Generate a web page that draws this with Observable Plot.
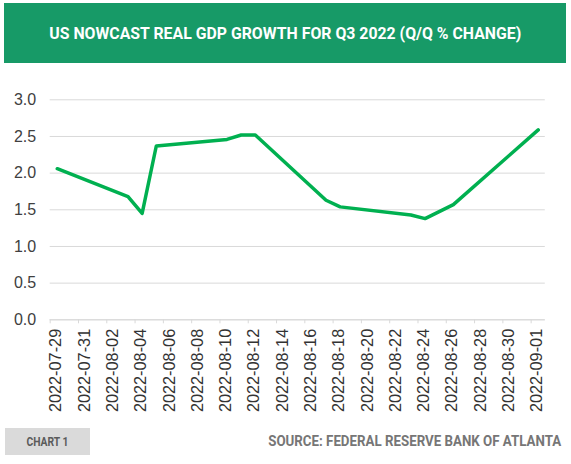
<!DOCTYPE html>
<html>
<head>
<meta charset="utf-8">
<script src="https://cdn.jsdelivr.net/npm/d3@7"></script>
<script src="https://cdn.jsdelivr.net/npm/@observablehq/plot@0.6"></script>
<style>
  html, body { margin: 0; padding: 0; background: #fff; }
  #wrap { position: relative; width: 571px; height: 464px; overflow: hidden; background: #fff; }
  #banner { position: absolute; left: 4px; top: 3px; width: 562px; height: 60px; background: #179a67;
            display: flex; align-items: center; justify-content: center; }
  .squeeze { display: inline-block; white-space: nowrap; transform-origin: center center; }
  #title { color: #fff; font-family: Roboto, "Liberation Sans", sans-serif; font-weight: 700; font-size: 17px; }
  #chart { position: absolute; left: 0; top: 70px; }
  #tag { position: absolute; left: 5px; top: 428px; width: 85px; height: 27px; background: #dadada;
         display: flex; align-items: center; justify-content: center; }
  #tagtext { color: #5b5b5b; font-family: Roboto, "Liberation Sans", sans-serif; font-weight: 700; font-size: 12.5px; }
  #source { position: absolute; left: 268px; top: 432px; height: 18px; width: 294px; display: flex; align-items: center; justify-content: center; }
  #sourcetext { color: #767676; font-family: Roboto, "Liberation Sans", sans-serif; font-weight: 700; font-size: 14.5px; }
</style>
</head>
<body>
<div id="wrap">
  <div id="banner"><span id="title" class="squeeze">US NOWCAST REAL GDP GROWTH FOR Q3 2022 (Q/Q % CHANGE)</span></div>
  <div id="chart"></div>
  <div id="tag"><span id="tagtext" class="squeeze">CHART 1</span></div>
  <div id="source"><span id="sourcetext" class="squeeze">SOURCE: FEDERAL RESERVE BANK OF ATLANTA</span></div>
</div>
<script>
// ---- data ----
const dates = ["2022-07-29","2022-08-03","2022-08-04","2022-08-05","2022-08-10","2022-08-11","2022-08-12",
               "2022-08-17","2022-08-18","2022-08-23","2022-08-24","2022-08-26","2022-09-01"];
const growth = [2.06, 1.68, 1.45, 2.37, 2.46, 2.52, 2.52, 1.63, 1.54, 1.43, 1.38, 1.57, 2.59];
const xDomain = ["2022-07-29", "2022-09-02"];
const yTicks = [0, 0.5, 1.0, 1.5, 2.0, 2.5, 3.0];
const xTickStart = "2022-07-29";
const xTickStepDays = 2;

const parse = d3.utcParse("%Y-%m-%d");
const data = dates.map((d, i) => ({date: d3.utcHour.offset(parse(d), 12), value: growth[i]}));
const domX = xDomain.map(parse);
const xTicks = d3.utcDay.range(parse(xTickStart), domX[1], xTickStepDays);

const plot = Plot.plot({
  width: 571,
  height: 350,
  marginLeft: 49.7,
  marginRight: 26.2,
  marginTop: 29.3,
  marginBottom: 100.7,
  style: {background: "transparent", overflow: "visible"},
  x: {type: "utc", domain: domX},
  y: {domain: [0, 3]},
  marks: [
    Plot.gridY(yTicks, {stroke: "#d9d9d9", strokeOpacity: 1, strokeWidth: 1}),
    Plot.axisY(yTicks, {tickSize: 0, tickPadding: 14, tickFormat: d3.format(".1f"), label: null,
      fontSize: 16, fill: "#404040", fontFamily: "'Liberation Sans', Arial, sans-serif"}),
    Plot.ruleY([0], {stroke: "#d9d9d9", strokeWidth: 1}),
    Plot.axisX(xTicks, {tickSize: 4, tickPadding: 5, label: null, text: null, stroke: "#d9d9d9", strokeOpacity: 1}),
    Plot.axisX(xTicks, {tickSize: 0, tickPadding: 9, tickRotate: -90, label: null, dx: 6,
      tickFormat: d3.utcFormat("%Y-%m-%d"),
      fontSize: 16.3, fill: "#333", fontFamily: "'Liberation Sans Narrow', 'Arial Narrow', 'Liberation Sans', sans-serif"}),
    Plot.line(data, {x: "date", y: "value", stroke: "#00b050", strokeWidth: 3.5})
  ]
});
document.getElementById("chart").appendChild(plot);

function squeeze(id, target) {
  const el = document.getElementById(id);
  const w = el.getBoundingClientRect().width;
  if (w > 0) el.style.transform = `scaleX(${target / w})`;
}
squeeze("title", 472);
squeeze("tagtext", 42);
squeeze("sourcetext", 293);
</script>
</body>
</html>
